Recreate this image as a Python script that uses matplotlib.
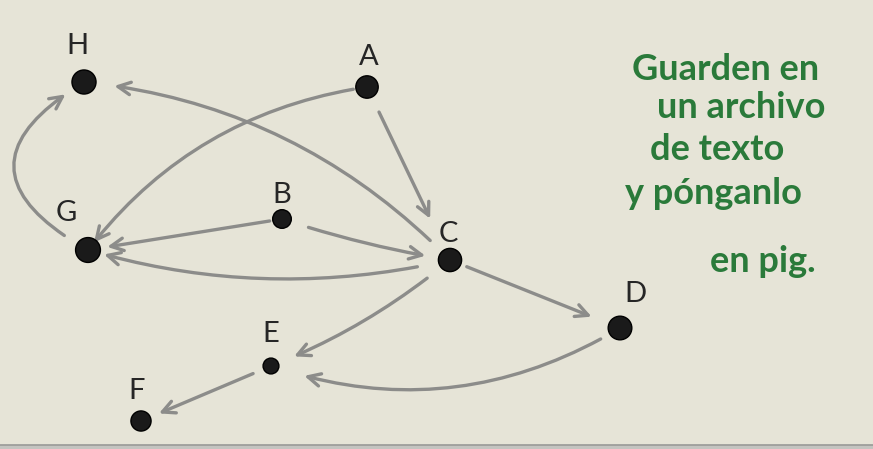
import numpy as np
import matplotlib
matplotlib.use("Agg")
import matplotlib.pyplot as plt

# graph data (pixel layout of the sketch)
nodes = ["H", "A", "G", "B", "C", "D", "E", "F"]
node_x = [84, 367, 88, 282, 450, 620, 271, 141]
node_y = [82, 87, 250, 219, 260, 328, 366, 421]

edges = [("A", "C"), ("A", "G"), ("C", "H"), ("G", "H"), ("B", "G"), ("B", "C"),
         ("C", "G"), ("C", "E"), ("C", "D"), ("D", "E"), ("E", "F")]

note_lines = ["Guarden en", "un archivo", "de texto", "y pónganlo", "en pig."]

# styling
bg = "#e6e4d7"
edge_col = "#8c8c8a"
ink = "#1a1a1a"
green = "#2a7a3a"
node_size = {"H": 300, "A": 260, "G": 320, "B": 180, "C": 280, "D": 290, "E": 130, "F": 210}
label_pos = {"H": (77, 46), "A": (369, 57), "G": (66, 213), "B": (282, 195),
             "C": (448, 234), "D": (635, 294), "E": (271, 334), "F": (137, 391)}
rad = {("A", "C"): 0.0, ("A", "G"): 0.2, ("C", "H"): 0.18, ("G", "H"): -0.85,
       ("B", "G"): 0.0, ("B", "C"): 0.04, ("C", "G"): -0.13, ("C", "E"): -0.08,
       ("C", "D"): 0.0, ("D", "E"): -0.23, ("E", "F"): 0.0}
shrink = {("A", "C"): (20, 33), ("A", "G"): (10, 7), ("C", "H"): (20, 22),
          ("G", "H"): (20, 16), ("B", "G"): (9, 14), ("B", "C"): (20, 18),
          ("C", "G"): (24, 12), ("C", "E"): (21, 18), ("C", "D"): (13, 22),
          ("D", "E"): (16, 25), ("E", "F"): (14, 14)}
note_x = [632, 657, 650, 625, 710]
note_y = [70, 108, 150, 194, 262]

pos = {n: (x, y) for n, x, y in zip(nodes, node_x, node_y)}

fig = plt.figure(figsize=(8.73, 4.49), dpi=100, facecolor=bg)
ax = fig.add_axes([0, 0, 1, 1])
ax.set_facecolor(bg)
ax.set_xlim(0, 873)
ax.set_ylim(449, 0)
ax.axis("off")

# bottom frame strip
ax.axhspan(445, 449, color="#c4c4c0", zorder=1)
ax.axhline(445, color="#9a9a98", lw=1.2, zorder=1)

for s, t in edges:
    sa, sb = shrink[(s, t)]
    ax.annotate("", xy=pos[t], xytext=pos[s],
                arrowprops=dict(arrowstyle="->,head_length=0.9,head_width=0.45",
                                color=edge_col, lw=2.4, shrinkA=sa, shrinkB=sb,
                                connectionstyle="arc3,rad=%g" % rad[(s, t)]),
                zorder=2)

ax.scatter(node_x, node_y, s=[node_size[n] for n in nodes], color=ink,
           edgecolors="#000000", linewidths=1, zorder=3)

for n in nodes:
    lx, ly = label_pos[n]
    ax.text(lx, ly, n, ha="center", va="center", fontsize=21,
            family=["Lato", "DejaVu Sans"], color="#262626", zorder=4)

for line, tx, ty in zip(note_lines, note_x, note_y):
    ax.text(tx, ty, line, ha="left", va="center", fontsize=26,
            family=["Lato", "DejaVu Sans"], fontweight="bold", color=green, zorder=4)

fig.savefig("out.png", dpi=100, facecolor=bg)
